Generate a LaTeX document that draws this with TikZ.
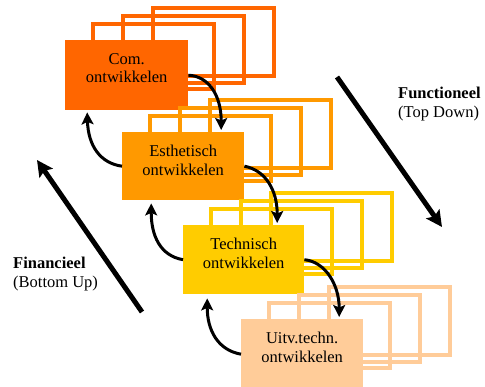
\documentclass[tikz,border=0pt]{standalone}
\usepackage{fontspec}
\setmainfont{Liberation Serif}
\usetikzlibrary{arrows.meta}
\definecolor{cA}{HTML}{FF6600}
\definecolor{cB}{HTML}{FF9900}
\definecolor{cC}{HTML}{FFCC00}
\definecolor{cD}{HTML}{FFCC99}
\tikzset{
  outl/.style={draw=#1, line width=4pt},
  boxnode/.style={fill=#1, draw=none, rectangle, inner sep=0pt, anchor=north west},
  lbl/.style={align=center, inner sep=0pt, anchor=north, font=\fontsize{16.5}{18.5}\selectfont},
  side/.style={align=left, inner sep=0pt, anchor=north west, font=\fontsize{16.5}{18.5}\selectfont},
  curvarrow/.style={draw=black, line width=3pt, -{Stealth[length=12pt,width=12pt,inset=2.5pt]}},
  bigarrow/.style={draw=black, line width=5pt, -{Stealth[length=16pt,width=16pt,inset=3pt]}}
}
\begin{document}
\begin{tikzpicture}[x=1pt,y=-1pt]
\useasboundingbox (0,0) rectangle (485,387);
% group 1
\draw[outl=cA] (152.5,8) rectangle +(121,68);
\draw[outl=cA] (123,16) rectangle +(121,67);
\draw[outl=cA] (92.5,24) rectangle +(121,65);
\node[boxnode=cA, minimum width=123pt, minimum height=70pt] (g1) at (65,40) {};
\node[lbl] (t1) at ([yshift=-13pt]g1.north) {Com.\\ontwikkelen};
% group 2
\draw[outl=cB] (209.5,100) rectangle +(121,68);
\draw[outl=cB] (180,108) rectangle +(121,67);
\draw[outl=cB] (149.5,116) rectangle +(121,65);
\node[boxnode=cB, minimum width=122pt, minimum height=68pt] (g2) at (122,132) {};
\node[lbl] (t2) at ([yshift=-13pt]g2.north) {Esthetisch\\ontwikkelen};
% group 3
\draw[outl=cC] (270.5,193) rectangle +(121,68);
\draw[outl=cC] (241,201) rectangle +(121,67);
\draw[outl=cC] (210.5,209) rectangle +(121,65);
\node[boxnode=cC, minimum width=121pt, minimum height=69pt] (g3) at (183,225) {};
\node[lbl] (t3) at ([yshift=-13pt]g3.north) {Technisch\\ontwikkelen};
% group 4
\draw[outl=cD] (328.5,287) rectangle +(121,68);
\draw[outl=cD] (299,295) rectangle +(121,67);
\draw[outl=cD] (268.5,303) rectangle +(121,65);
\node[boxnode=cD, minimum width=122pt, minimum height=70pt] (g4) at (241,319) {};
\node[lbl] (t4) at ([yshift=-13pt]g4.north) {Uitv.techn.\\ontwikkelen};
% curved arrows
\draw[curvarrow] (g1.east) .. controls +(20,1) and +(0,-35) .. ([xshift=38pt,yshift=2pt]g2.north);
\draw[curvarrow] (g2.west) .. controls +(-22,-3) and +(1,33) .. ([xshift=-39.5pt,yshift=-2pt]g1.south);
\draw[curvarrow] (g2.east) .. controls +(21,4) and +(0,-33) .. ([xshift=33.5pt,yshift=2pt]g3.north);
\draw[curvarrow] (g3.west) .. controls +(-23,-4) and +(0,32) .. ([xshift=-32pt,yshift=-3pt]g2.south);
\draw[curvarrow] (g3.east) .. controls +(21,2) and +(0,-32) .. ([xshift=37pt,yshift=2pt]g4.north);
\draw[curvarrow] (g4.west) .. controls +(-23,-4) and +(0,32) .. ([xshift=-36.5pt,yshift=-4pt]g3.south);
% straight arrows
\coordinate (fs) at (337,77);
\coordinate (fe) at (442,227);
\draw[bigarrow] (fs) -- (fe);
\coordinate (bs) at (142,312);
\coordinate (be) at (37,160);
\draw[bigarrow] (bs) -- (be);
% side labels
\node[side] (func) at (398,87) {\textbf{Functioneel}\\(Top Down)};
\node[side] (fin) at (13,257) {\textbf{Financieel}\\(Bottom Up)};
\end{tikzpicture}
\end{document}
